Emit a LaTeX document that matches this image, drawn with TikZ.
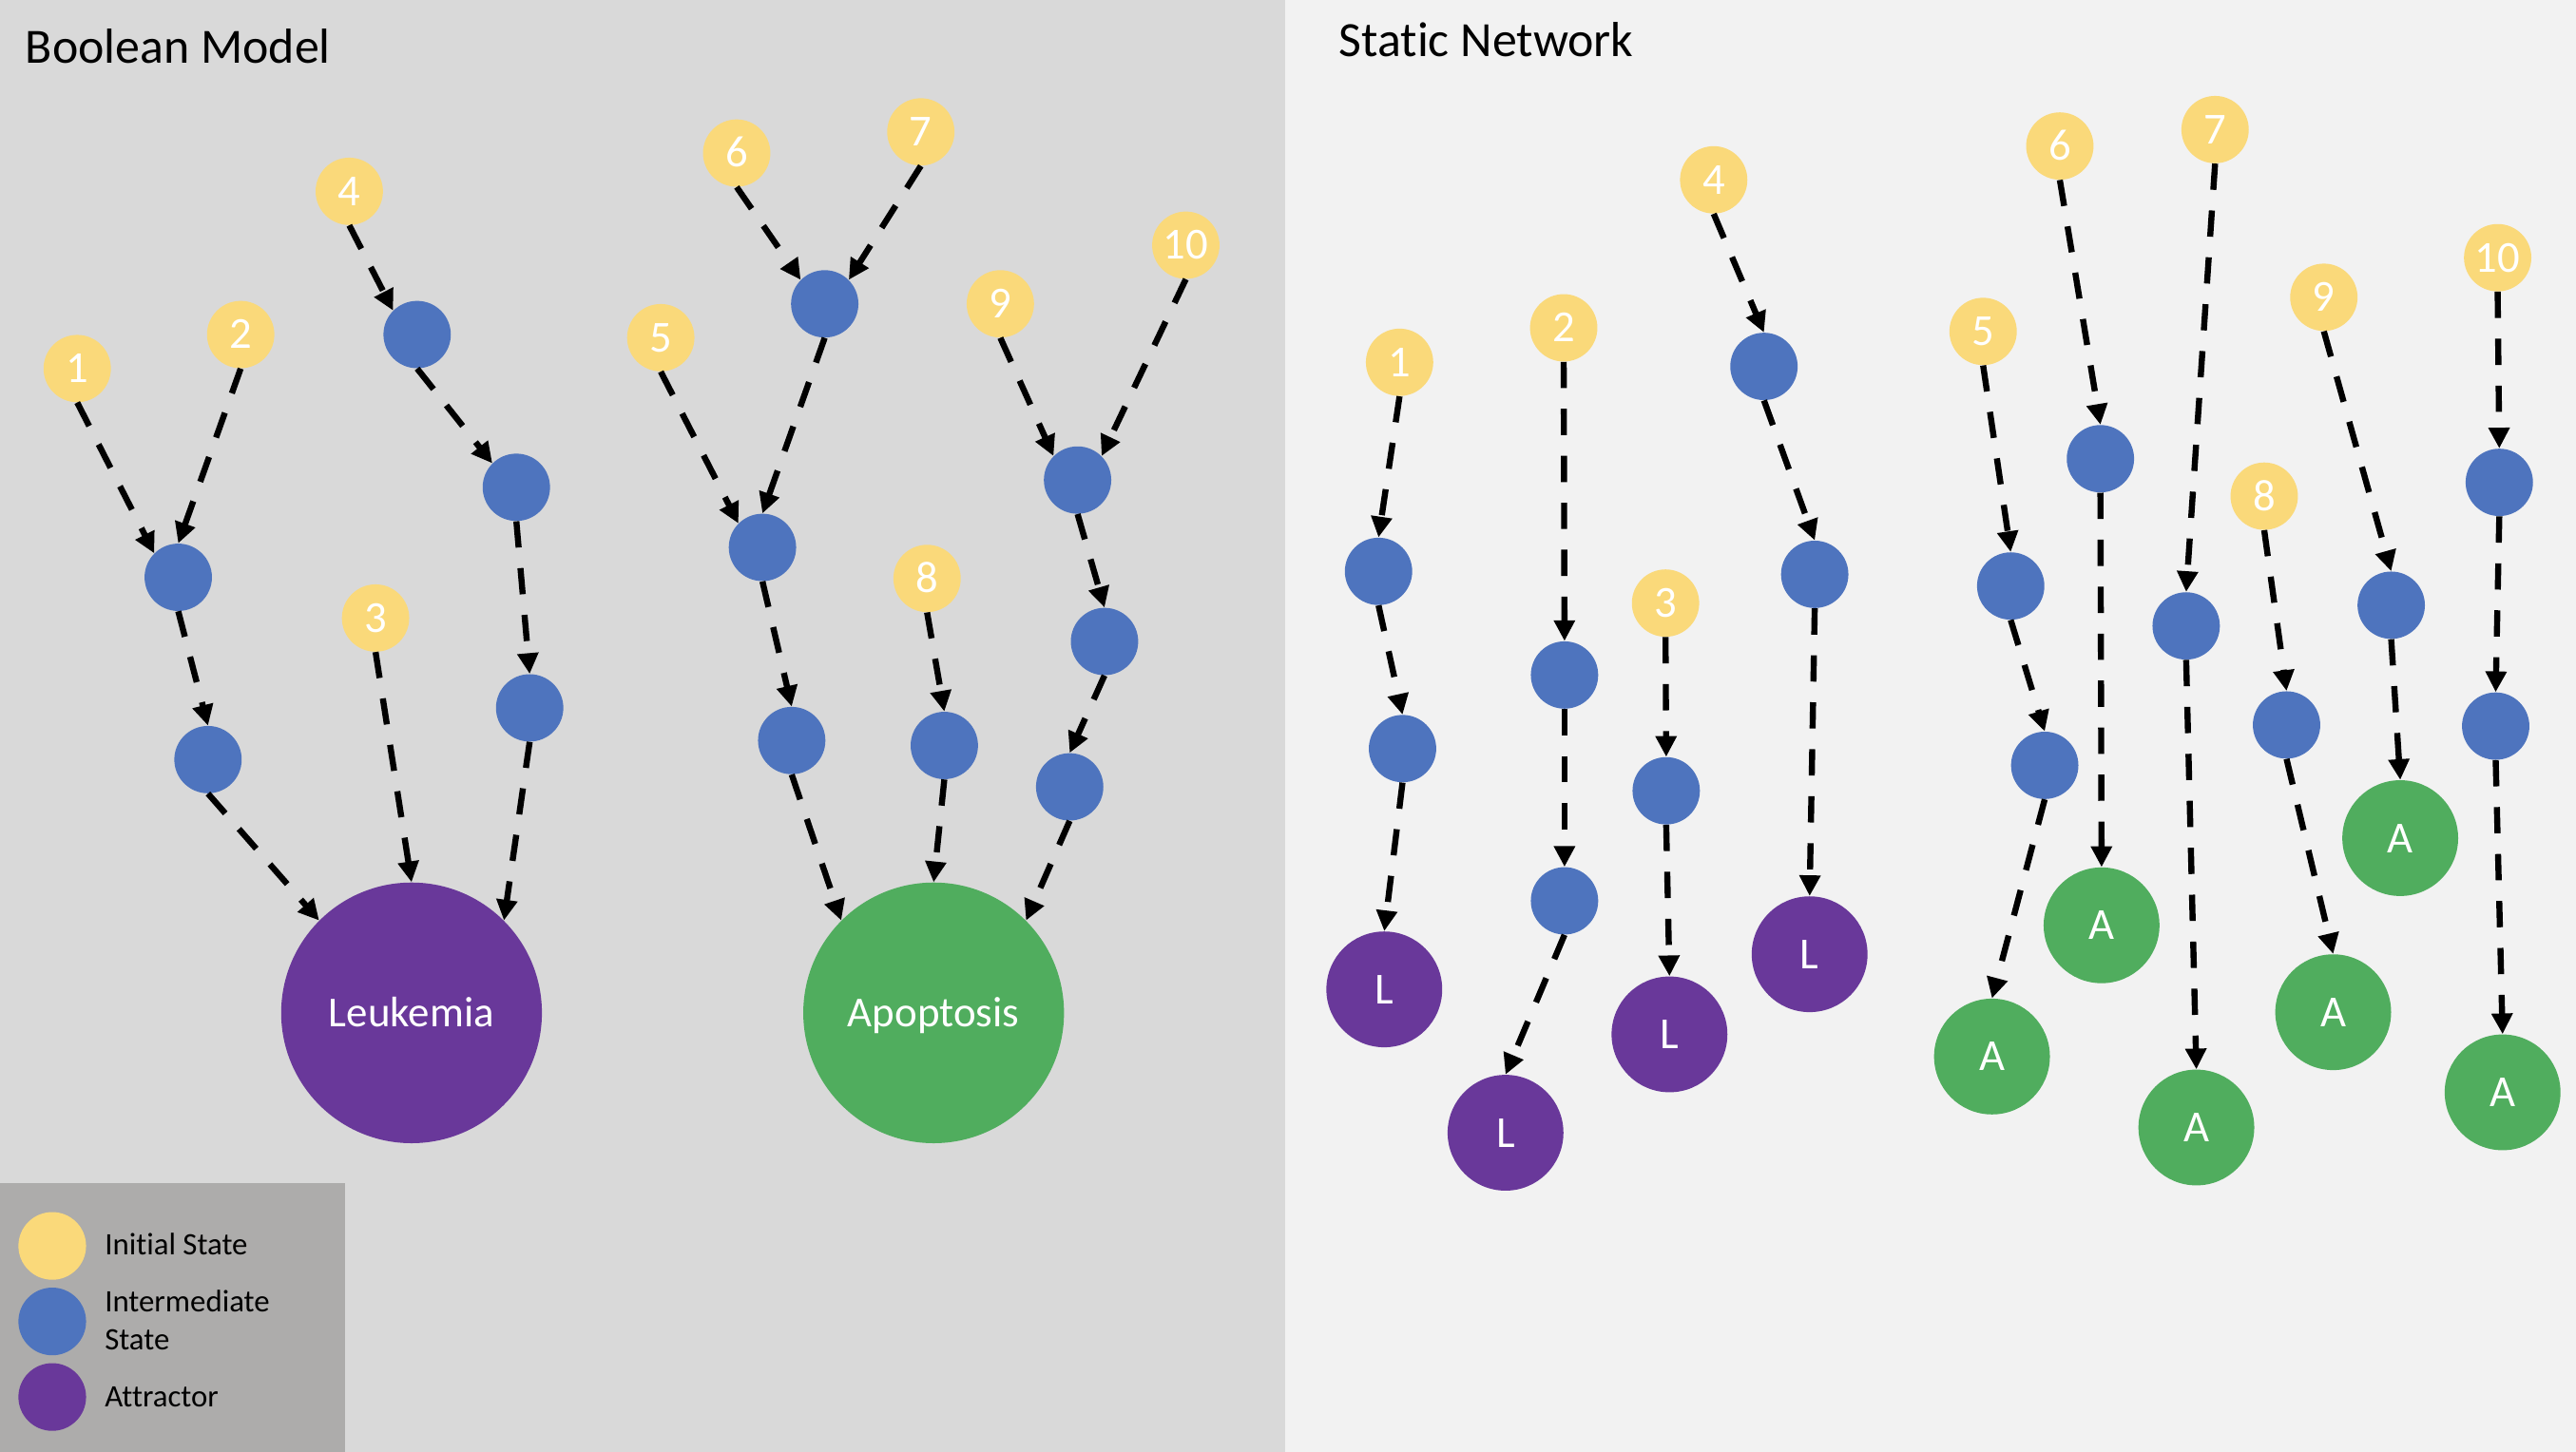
\documentclass[tikz,border=0pt]{standalone}
\usepackage{fontspec}
\setmainfont{Carlito}[Ligatures=NoCommon]
\usetikzlibrary{arrows.meta}
\definecolor{ylw}{HTML}{FAD97A}
\definecolor{blu}{HTML}{4E74BE}
\definecolor{pur}{HTML}{69389A}
\definecolor{grn}{HTML}{50AD5E}
\definecolor{lbg}{HTML}{D9D9D9}
\definecolor{rbg}{HTML}{F2F2F2}
\definecolor{leg}{HTML}{ADACAB}
\tikzset{
  init/.style={circle, fill=ylw, minimum size=41pt, inner sep=0pt, text=white, font=\fontsize{27}{29}\selectfont, text height=17.2pt, text depth=0pt},
  inter/.style={circle, fill=blu, minimum size=41pt, inner sep=0pt},
  bigatt/.style={circle, minimum size=158.7pt, inner sep=0pt, text=white, font=\fontsize{26}{28}\selectfont, text height=16.8pt, text depth=0pt},
  smatt/.style={circle, minimum size=70.5pt, inner sep=0pt, text=white, font=\fontsize{27}{29}\selectfont, text height=17.4pt, text depth=0pt},
  legdot/.style={circle, minimum size=41.2pt, inner sep=0pt},
  arr/.style={draw, line width=3.7pt, dash pattern=on 16pt off 12.6pt, -{Triangle[length=12.6pt,width=12.3pt]}},
  ttl/.style={anchor=base west, inner sep=0pt, font=\fontsize{30}{32}\selectfont},
  legtxt/.style={anchor=base west, inner sep=0pt, align=left, font=\fontsize{19}{22.7}\selectfont}
}
\begin{document}
\begin{tikzpicture}[x=1pt,y=-1pt]
\useasboundingbox (0,0) rectangle (1568,884);
\fill[lbg] (0,0) rectangle (782.5,884);
\fill[rbg] (782.5,0) rectangle (1568,884);
\fill[leg] (0,720.4) rectangle (210,884);
\node[ttl] (t1) at (15.4,38.6) {Boolean Model};
\node[ttl] (t2) at (814.9,34.3) {Static Network};
% legend
\node[legdot, fill=ylw] (lg1) at (31.8,758.6) {};
\node[legdot, fill=blu] (lg2) at (31.8,804.6) {};
\node[legdot, fill=pur] (lg3) at (31.8,850.6) {};
\node[legtxt] (lt1) at (63.6,764.2) {Initial State};
\node[legtxt] (lt2) at (63.6,821.6) {Intermediate\\State};
\node[legtxt] (lt3) at (63.6,856.7) {Attractor};
% ---------- Boolean model ----------
\node[init] (y1) at (47.0,224.4) {1};
\node[init] (y2) at (146.5,203.7) {2};
\node[init] (y3) at (228.6,376.3) {3};
\node[init] (y4) at (212.6,116.5) {4};
\node[init] (y5) at (402.2,205.6) {5};
\node[init] (y6) at (448.4,93.2) {6};
\node[init] (y7) at (560.5,80.3) {7};
\node[init] (y8) at (564.3,352.2) {8};
\node[init] (y9) at (608.9,185.0) {9};
\node[init] (y10) at (721.8,149.3) {10};
\node[inter] (b1) at (108.5,351.5) {};
\node[inter] (b2) at (126.6,462.5) {};
\node[inter] (b4a) at (253.9,203.7) {};
\node[inter] (b4b) at (314.3,296.7) {};
\node[inter] (b4c) at (322.4,431.0) {};
\node[inter] (b67) at (502.0,185.0) {};
\node[inter] (b5) at (464.1,333.3) {};
\node[inter] (b5b) at (481.9,450.9) {};
\node[inter] (b8) at (574.8,453.9) {};
\node[inter] (b9) at (655.9,292.3) {};
\node[inter] (b9b) at (672.3,390.6) {};
\node[inter] (b9c) at (651.1,479.1) {};
\node[bigatt, fill=pur] (leuk) at (250.5,616.7) {Leukemia};
\node[bigatt, fill=grn] (apop) at (568.3,616.7) {Apoptosis};
\draw[arr] (y1.south) -- (b1.135);
\draw[arr] (y2.south) -- (b1.north);
\draw[arr] (b1.south) -- (b2.north);
\draw[arr] (b2.south) -- (leuk.135);
\draw[arr] (y3.south) -- (leuk.north);
\draw[arr] (y4.south) -- (b4a.135);
\draw[arr] (b4a.south) -- (b4b.135);
\draw[arr] (b4b.south) -- (b4c.north);
\draw[arr] (b4c.south) -- (leuk.45);
\draw[arr] (y6.south) -- (b67.135);
\draw[arr] (y7.south) -- (b67.45);
\draw[arr] (y5.south) -- (b5.135);
\draw[arr] (b67.south) -- (b5.north);
\draw[arr] (b5.south) -- (b5b.north);
\draw[arr] (b5b.south) -- (apop.135);
\draw[arr] (y8.south) -- (b8.north);
\draw[arr] (b8.south) -- (apop.north);
\draw[arr] (y9.south) -- (b9.135);
\draw[arr] (y10.south) -- (b9.45);
\draw[arr] (b9.south) -- (b9b.north);
\draw[arr] (b9b.south) -- (b9c.north);
\draw[arr] (b9c.south) -- (apop.45);
% ---------- Static network ----------
\node[init] (s1) at (851.9,220.6) {1};
\node[inter] (s1a) at (839.1,347.9) {};
\node[inter] (s1b) at (853.7,455.8) {};
\node[smatt, fill=pur] (s1L) at (842.6,602.4) {L};
\node[init] (s2) at (951.8,199.6) {2};
\node[inter] (s2a) at (952.3,411.0) {};
\node[inter] (s2b) at (952.3,548.5) {};
\node[smatt, fill=pur] (s2L) at (916.4,689.7) {L};
\node[init] (s3) at (1013.8,367.2) {3};
\node[inter] (s3a) at (1014.2,481.5) {};
\node[smatt, fill=pur] (s3L) at (1016.2,629.8) {L};
\node[init] (s4) at (1043.1,109.5) {4};
\node[inter] (s4a) at (1073.7,223.1) {};
\node[inter] (s4b) at (1104.6,349.7) {};
\node[smatt, fill=pur] (s4L) at (1101.5,581.0) {L};
\node[init] (s5) at (1207.1,201.8) {5};
\node[inter] (s5a) at (1223.9,356.8) {};
\node[inter] (s5b) at (1244.6,466.0) {};
\node[smatt, fill=grn] (s5A) at (1212.5,643.3) {A};
\node[init] (s6) at (1253.8,88.9) {6};
\node[inter] (s6a) at (1278.5,279.3) {};
\node[smatt, fill=grn] (s6A) at (1279.2,563.4) {A};
\node[init] (s7) at (1348.3,78.9) {7};
\node[inter] (s7a) at (1330.7,381.1) {};
\node[smatt, fill=grn] (s7A) at (1336.9,686.5) {A};
\node[init] (s8) at (1378.2,302.1) {8};
\node[inter] (s8a) at (1391.8,441.4) {};
\node[smatt, fill=grn] (s8A) at (1420.2,616.3) {A};
\node[init] (s9) at (1414.5,181.0) {9};
\node[inter] (s9a) at (1455.5,368.5) {};
\node[smatt, fill=grn] (s9A) at (1461.0,510.3) {A};
\node[init] (s10) at (1520.3,156.9) {10};
\node[inter] (s10a) at (1521.3,293.7) {};
\node[inter] (s10b) at (1519.1,442.1) {};
\node[smatt, fill=grn] (s10A) at (1523.3,665.1) {A};
\draw[arr] (s1.south) -- (s1a.north);
\draw[arr] (s1a.south) -- (s1b.north);
\draw[arr] (s1b.south) -- (s1L.north);
\draw[arr] (s2.south) -- (s2a.north);
\draw[arr] (s2a.south) -- (s2b.north);
\draw[arr] (s2b.south) -- (s2L.north);
\draw[arr] (s3.south) -- (s3a.north);
\draw[arr] (s3a.south) -- (s3L.north);
\draw[arr] (s4.south) -- (s4a.north);
\draw[arr] (s4a.south) -- (s4b.north);
\draw[arr] (s4b.south) -- (s4L.north);
\draw[arr] (s5.south) -- (s5a.north);
\draw[arr] (s5a.south) -- (s5b.north);
\draw[arr] (s5b.south) -- (s5A.north);
\draw[arr] (s6.south) -- (s6a.north);
\draw[arr] (s6a.south) -- (s6A.north);
\draw[arr] (s7.south) -- (s7a.north);
\draw[arr] (s7a.south) -- (s7A.north);
\draw[arr] (s8.south) -- (s8a.north);
\draw[arr] (s8a.south) -- (s8A.north);
\draw[arr] (s9.south) -- (s9a.north);
\draw[arr] (s9a.south) -- (s9A.north);
\draw[arr] (s10.south) -- (s10a.north);
\draw[arr] (s10a.south) -- (s10b.north);
\draw[arr] (s10b.south) -- (s10A.north);
\end{tikzpicture}
\end{document}
